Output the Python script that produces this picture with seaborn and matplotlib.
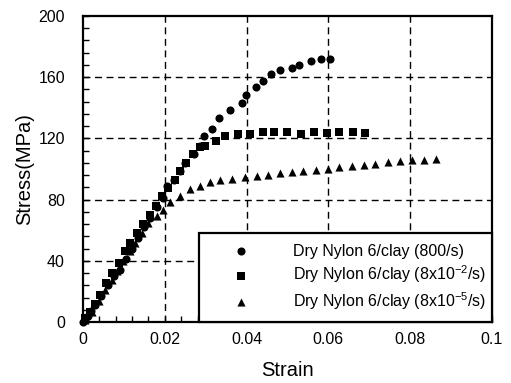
import numpy as np
import pandas as pd
import matplotlib
matplotlib.use("Agg")
import matplotlib.pyplot as plt
from matplotlib.ticker import MultipleLocator, FixedLocator
import seaborn as sns

# ---- data ----
c_x = [0.0, 0.0005, 0.0012, 0.002, 0.003, 0.0045, 0.006, 0.0075, 0.0091, 0.0105, 0.012, 0.0135,
       0.015, 0.0165, 0.018, 0.0195, 0.0206, 0.0222, 0.0236, 0.0249, 0.0271, 0.0287, 0.0295, 0.0316,
       0.0332, 0.0359, 0.0388, 0.0399, 0.0422, 0.0439, 0.0459, 0.0482, 0.0510, 0.0528, 0.0557,
       0.0583, 0.0604]
c_y = [0, 1.5, 4, 7, 11, 17, 24, 30, 34, 41, 48, 55, 62, 68, 75, 81, 88.7, 93, 98.6, 104, 109.5,
       115, 121.5, 126.4, 133.1, 138.6, 143, 148.2, 153.6, 157.2, 162, 164.8, 165.7, 167.9, 170.3,
       171.8, 171.8]

s_x = [0.0005, 0.0017, 0.0029, 0.0042, 0.0056, 0.0070, 0.0087, 0.0103, 0.0115, 0.0132, 0.0146,
       0.0164, 0.0179, 0.0193, 0.0207, 0.0224, 0.0236, 0.0253, 0.0269, 0.0285, 0.0299, 0.0324,
       0.0346, 0.0379, 0.0409, 0.0439, 0.0467, 0.0500, 0.0533, 0.0565, 0.0596, 0.0627, 0.0659,
       0.0690]
s_y = [2.4, 6.8, 11.8, 17.7, 25.4, 31.9, 38.5, 46.1, 51.6, 58.2, 64.1, 70.1, 76.1, 82.2, 87.7,
       93.1, 98.6, 104.1, 109.5, 114.3, 115, 118.2, 121.3, 123, 123, 124.3, 123.9, 123.9, 123.2,
       123.9, 123.6, 123.9, 123.9, 123.6]

t_x = [0.0005, 0.0021, 0.0038, 0.0054, 0.0070, 0.0084, 0.0098, 0.0114, 0.0128, 0.0144, 0.0160,
       0.0181, 0.0196, 0.0213, 0.0236, 0.0261, 0.0285, 0.0310, 0.0336, 0.0365, 0.0396, 0.0425,
       0.0452, 0.0482, 0.0510, 0.0539, 0.0569, 0.0598, 0.0627, 0.0658, 0.0686, 0.0715, 0.0745,
       0.0774, 0.0804, 0.0833, 0.0864]
t_y = [1.3, 6.8, 14, 21, 27.5, 33.5, 39.6, 46.1, 51.6, 58.2, 64.7, 69, 73.4, 78.2, 82.2, 87.1,
       89.2, 91.4, 92.5, 93.6, 94.6, 95.3, 96.2, 97.5, 97.9, 99, 99.6, 100.1, 101.4, 101.8, 102.3,
       103.3, 104.4, 105.1, 106.2, 106.2, 106.6]

labels = ["Dry Nylon 6/clay (800/s)",
          r"Dry Nylon 6/clay (8x10$^{\mathregular{-2}}$/s)",
          r"Dry Nylon 6/clay (8x10$^{\mathregular{-5}}$/s)"]

x_ticks = [0, 0.02, 0.04, 0.06, 0.08, 0.1]
x_ticklabels = ["0", "0.02", "0.04", "0.06", "0.08", "0.1"]
y_ticks = [0, 40, 80, 120, 160, 200]

sns.set_style("white")
plt.rcParams["font.family"] = ["Liberation Sans", "DejaVu Sans"]
plt.rcParams["mathtext.fontset"] = "custom"
plt.rcParams["mathtext.rm"] = "Liberation Sans"
for k in ["text.color", "axes.labelcolor", "xtick.color", "ytick.color"]:
    plt.rcParams[k] = "black"

fig = plt.figure(figsize=(5.11, 3.83), dpi=100)
ax = fig.add_axes([0.1624, 0.1593, 0.9628 - 0.1624, 0.9582 - 0.1593])

df_c = pd.DataFrame({"Strain": c_x, "Stress": c_y})
df_s = pd.DataFrame({"Strain": s_x, "Stress": s_y})
df_t = pd.DataFrame({"Strain": t_x, "Stress": t_y})

sns.scatterplot(data=df_c, x="Strain", y="Stress", marker="o", s=34, color="black",
                edgecolor="black", linewidth=0, ax=ax, label=labels[0], zorder=3, clip_on=False)
sns.scatterplot(data=df_s, x="Strain", y="Stress", marker="s", s=26, color="black",
                edgecolor="black", linewidth=0, ax=ax, label=labels[1], zorder=3, clip_on=False)
sns.scatterplot(data=df_t, x="Strain", y="Stress", marker="^", s=34, color="black",
                edgecolor="black", linewidth=0, ax=ax, label=labels[2], zorder=3, clip_on=False)

ax.set_xlim(0, 0.1)
ax.set_ylim(0, 200)
ax.xaxis.set_major_locator(FixedLocator(x_ticks))
ax.set_xticklabels(x_ticklabels)
ax.yaxis.set_major_locator(FixedLocator(y_ticks))
ax.xaxis.set_minor_locator(MultipleLocator(0.004))
ax.yaxis.set_minor_locator(MultipleLocator(8))

ax.tick_params(axis="both", which="both", direction="in", top=False, right=False,
               bottom=True, left=True, color="black", labelcolor="black", width=1.0,
               labelsize=11.5)
ax.tick_params(axis="both", which="major", length=4)
ax.tick_params(axis="both", which="minor", length=4)
ax.tick_params(axis="y", which="major", pad=13)
ax.tick_params(axis="x", which="major", pad=7)

for sp in ax.spines.values():
    sp.set_color("black")
    sp.set_linewidth(1.6)

for xv in [0.02, 0.04, 0.06, 0.08]:
    ax.axvline(xv, color="black", lw=1.0, ls=(0, (5, 3.3)), zorder=1)
for yv in [40, 80, 120, 160]:
    ax.axhline(yv, color="black", lw=1.0, ls=(0, (5, 3.3)), zorder=1)

ax.set_xlabel("Strain", fontsize=14.5, labelpad=10, color="black")
ax.set_ylabel("Stress(MPa)", fontsize=14.5, labelpad=3, color="black")

leg = ax.legend(loc="lower left", bbox_to_anchor=(0.284, 0.0, 0.716, 0.295), mode="expand",
                borderaxespad=0, fontsize=11.5, frameon=True, fancybox=False,
                borderpad=0.65, labelspacing=0.3, handlelength=4.0, handletextpad=1.2,
                markerscale=1.0)
leg.get_frame().set_edgecolor("black")
leg.get_frame().set_linewidth(1.6)
leg.get_frame().set_facecolor("white")
leg.get_frame().set_alpha(1)
leg.set_zorder(5)
for t in leg.get_texts():
    t.set_color("black")

fig.savefig("out.png", dpi=100)
